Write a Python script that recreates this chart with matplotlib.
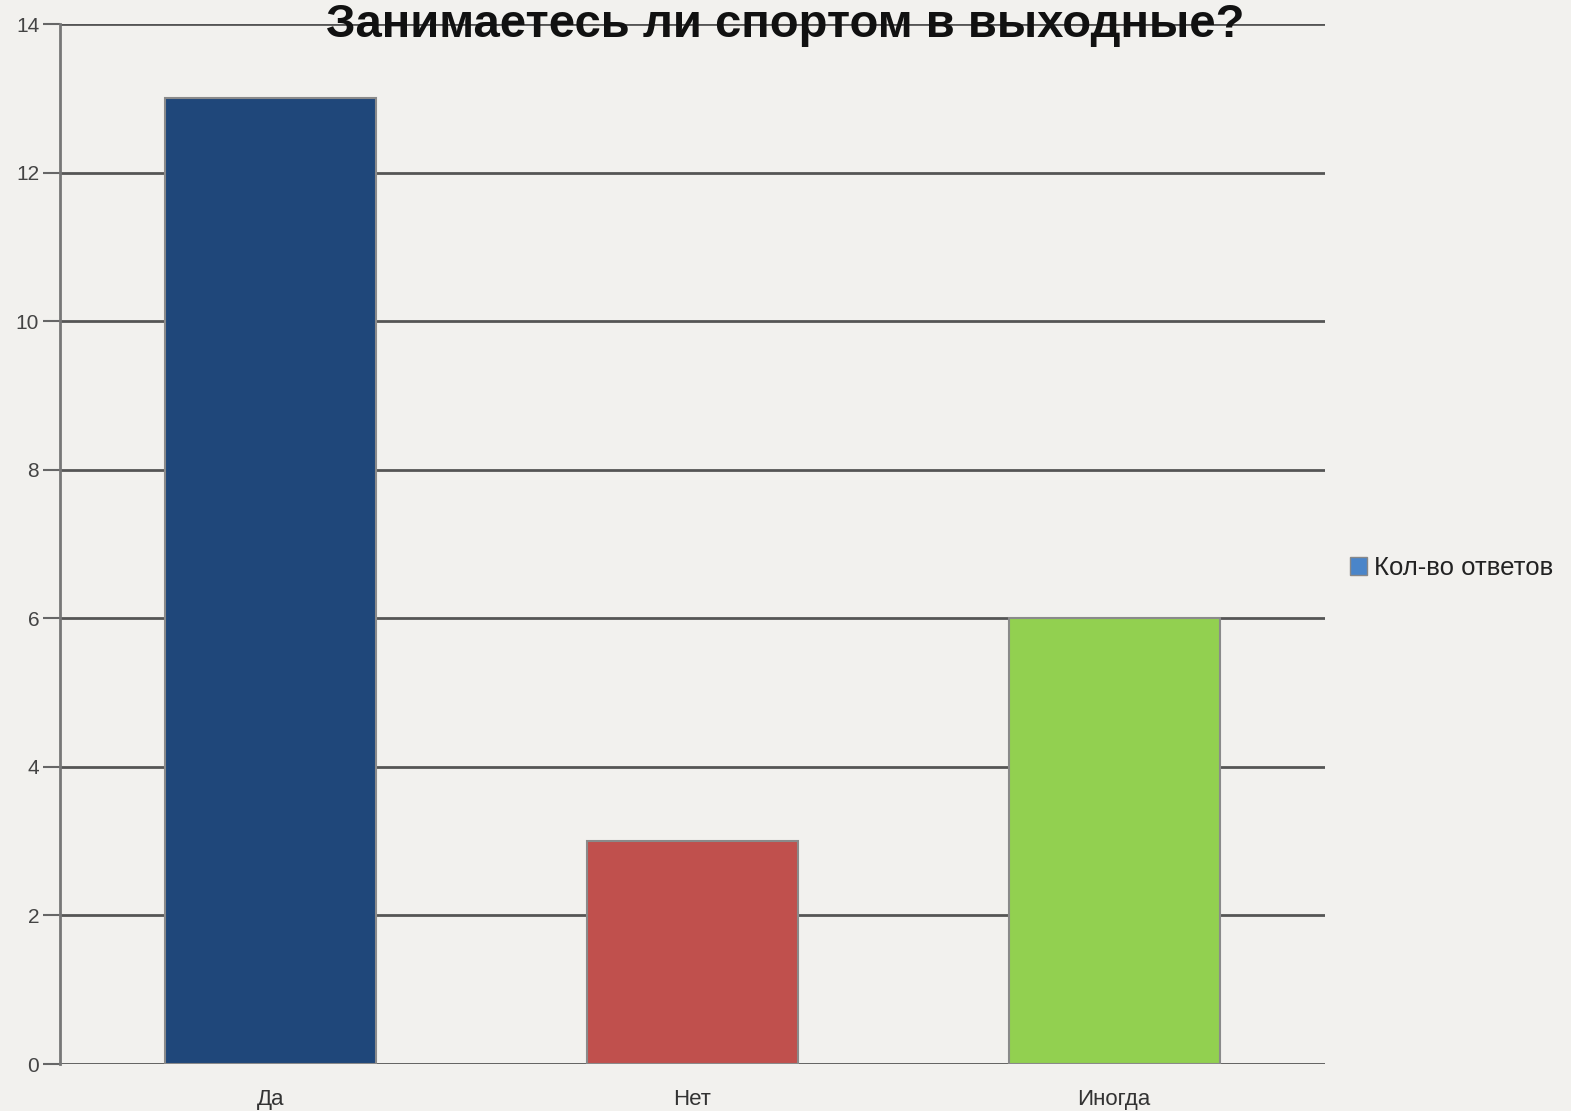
import matplotlib
matplotlib.use("Agg")
import matplotlib.pyplot as plt
from matplotlib.patches import Patch

categories = ["Да", "Нет", "Иногда"]
values = [13, 3, 6]
bar_colors = ["#1f477a", "#c0504d", "#92d050"]
series_name = "Кол-во ответов"
legend_color = "#4a85c9"
title = "Занимаетесь ли спортом в выходные?"
yticks = [0, 2, 4, 6, 8, 10, 12, 14]

plt.rcParams['font.family'] = ['Liberation Sans', 'DejaVu Sans']
bg = "#f2f1ee"
fig = plt.figure(figsize=(15.71, 11.11), dpi=100, facecolor=bg)
ax = fig.add_axes([60/1571, 1-1064/1111, 1265/1571, 1040/1111])
ax.set_facecolor(bg)

ax.bar(range(len(categories)), values, width=0.5, color=bar_colors,
       edgecolor="#8a8a8a", linewidth=1.5, zorder=3)
ax.set_xlim(-0.5, 2.5)
ax.set_ylim(0, 14)
ax.set_yticks(yticks)
ax.set_yticklabels([str(t) for t in yticks], fontsize=15, color="#444444")
ax.set_xticks(range(len(categories)))
ax.set_xticklabels(categories, fontsize=16, color="#333333")
ax.tick_params(axis='y', length=12, width=1.5, color="#666666", pad=3)
ax.tick_params(axis='x', length=0, pad=18)
ax.grid(axis='y', color="#555555", linewidth=2, zorder=1)
for s in ['top', 'right', 'bottom']:
    ax.spines[s].set_visible(False)
ax.spines['left'].set_color("#777777")
ax.spines['left'].set_linewidth(2)
ax.set_axisbelow(True)

fig.text(0.5, 1-37/1111, title, ha='center', va='baseline', fontsize=34,
         fontweight='bold', color="#111111")

leg = fig.legend(handles=[Patch(facecolor=legend_color, edgecolor="#888888", label=series_name)],
                 loc='center left', bbox_to_anchor=(1350/1571, 1-568/1111),
                 frameon=False, fontsize=18.5, handlelength=0.65, handleheight=0.65,
                 handletextpad=0.3, borderpad=0, borderaxespad=0)
for t in leg.get_texts():
    t.set_color("#222222")

fig.savefig("out.png", dpi=100, facecolor=bg)
